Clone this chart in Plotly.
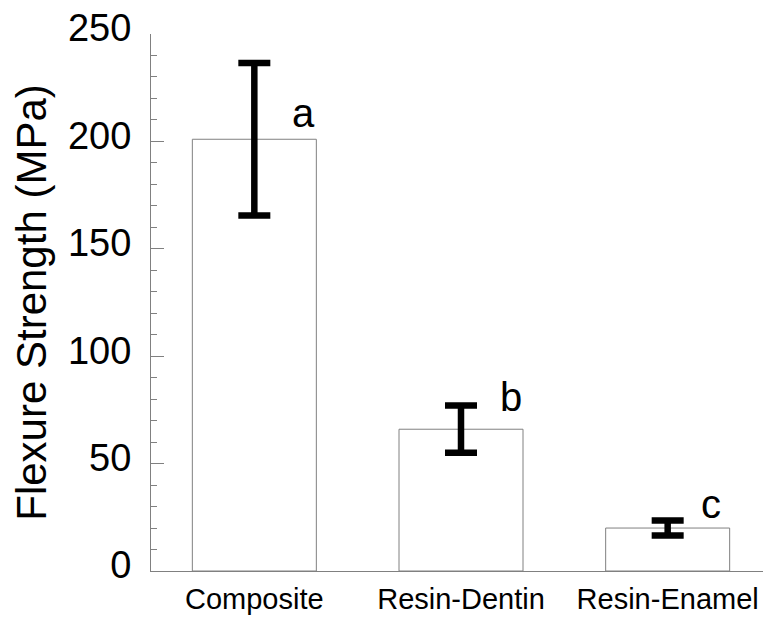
import plotly.graph_objects as go

categories = ["Composite", "Resin-Dentin", "Resin-Enamel"]
means = [201, 66, 20]
errors = [35.5, 11, 3.5]
letters = ["a", "b", "c"]
letter_x = [0.24, 1.24, 2.21]
letter_y = [213, 81, 31]

fig = go.Figure()
fig.add_trace(go.Bar(
    x=[0, 1, 2],
    y=means,
    marker=dict(color="white", line=dict(color="#808080", width=1)),
    error_y=dict(type="data", array=errors, visible=True, color="black",
                 thickness=6.5, width=16),
    width=0.6,
))

for lx, ly, t in zip(letter_x, letter_y, letters):
    fig.add_annotation(x=lx, y=ly, text=t, showarrow=False,
                       xref="x", yref="y", xanchor="center", yanchor="middle",
                       font=dict(family="Liberation Sans, Arial", size=40, color="black"))

# page body has an 8px default margin; size the figure to fit the 771x623 window
fig.update_layout(
    width=763, height=615,
    margin=dict(l=143, r=0, t=26, b=52, autoexpand=False),
    paper_bgcolor="white", plot_bgcolor="white",
    showlegend=False,
    font=dict(family="Liberation Sans, Arial", color="black"),
)
fig.update_xaxes(
    range=[-0.5, 2.5],
    tickvals=[0, 1, 2], ticktext=categories,
    showline=True, linecolor="#808080", linewidth=1,
    ticks="", showgrid=False, zeroline=False,
    tickfont=dict(size=29, color="black"),
    ticklabelstandoff=2,
    automargin=False,
)
fig.update_yaxes(
    range=[0, 250],
    tickvals=[0, 50, 100, 150, 200, 250],
    showline=True, linecolor="#808080", linewidth=1,
    ticks="inside", ticklen=13, tickcolor="#808080", tickwidth=1,
    minor=dict(ticks="inside", ticklen=6, dtick=10, tickcolor="#808080", tickwidth=1, showgrid=False),
    showgrid=False, zeroline=False,
    tickfont=dict(size=38, color="black"),
    ticklabelstandoff=11,
    ticklabelshift=-6,
    ticklabeloverflow="allow",
    title=dict(text="Flexure Strength (MPa)", font=dict(size=42, color="black"), standoff=10),
    automargin=False,
)

fig.write_html("out.html")
